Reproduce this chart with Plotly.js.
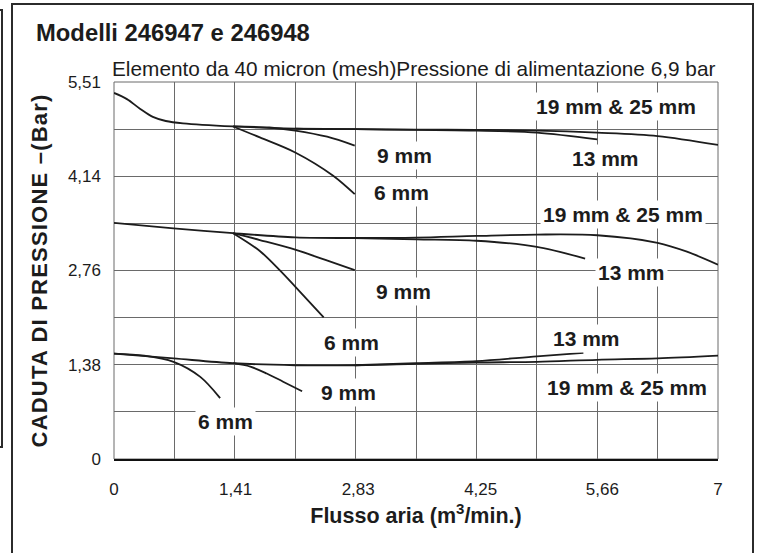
<!DOCTYPE html>
<html>
<head>
<meta charset="utf-8">
<script src="https://cdn.plot.ly/plotly-3.0.1.min.js"></script>
<style>
  html, body { margin: 0; padding: 0; background: #fff; overflow: hidden; }
  #wrap { position: relative; width: 762px; height: 553px; overflow: hidden; }
  #chart { position: absolute; left: 0; top: 0; width: 762px; height: 553px; }
  .frame { position: absolute; pointer-events: none; box-sizing: border-box; }
  #frameMain { left: 11px; top: 3px; width: 743px; height: 620px; border: 2px solid #2b2b2b; }
  #frameSide { left: -60px; top: 9px; width: 63px; height: 439px; border: 2px solid #2b2b2b; }
  #chart .ytitle { letter-spacing: 1.2px; }
</style>
</head>
<body>
<div id="wrap">
  <div id="chart"></div>
  <div class="frame" id="frameMain"></div>
  <div class="frame" id="frameSide"></div>
</div>
<script>
// Air flow (m³/min) against pressure drop (bar), three curve families, one line per pipe size.

// Upper family
const upper1925X = [0, 0.15, 0.30, 0.45, 0.60, 0.80, 1.38, 2.10, 2.80, 3.50, 4.20, 4.90, 5.60, 6.30, 7.00];
const upper1925Y = [5.35, 5.26, 5.12, 5.00, 4.94, 4.905, 4.86, 4.83, 4.82, 4.815, 4.81, 4.80, 4.77, 4.72, 4.59];
const upper13X = [2.10, 2.80, 3.50, 4.20, 4.90, 5.60];
const upper13Y = [4.83, 4.82, 4.81, 4.80, 4.77, 4.67];
const upper9X = [1.38, 1.80, 2.10, 2.47, 2.79];
const upper9Y = [4.86, 4.845, 4.80, 4.71, 4.58];
const upper6X = [1.38, 1.69, 2.10, 2.54, 2.79];
const upper6Y = [4.86, 4.70, 4.48, 4.14, 3.87];

// Middle family
const middle1925X = [0, 0.69, 1.38, 2.10, 2.79, 3.50, 4.20, 4.90, 5.60, 6.30, 6.64, 7.00];
const middle1925Y = [3.45, 3.37, 3.30, 3.24, 3.23, 3.235, 3.26, 3.28, 3.27, 3.16, 3.03, 2.84];
const middle13X = [2.79, 3.50, 4.20, 4.90, 5.46];
const middle13Y = [3.23, 3.21, 3.19, 3.10, 2.93];
const middle9X = [1.38, 1.69, 2.10, 2.45, 2.79];
const middle9Y = [3.30, 3.20, 3.06, 2.91, 2.76];
const middle6X = [1.38, 1.69, 1.92, 2.10, 2.43];
const middle6Y = [3.30, 3.04, 2.76, 2.52, 2.07];

// Lower family
const lower1925X = [0, 0.69, 1.38, 2.10, 2.79, 3.50, 4.20, 4.90, 5.60, 6.30, 7.00];
const lower1925Y = [1.54, 1.47, 1.40, 1.37, 1.37, 1.39, 1.41, 1.42, 1.45, 1.47, 1.51];
const lower13X = [2.79, 3.50, 4.20, 4.90, 5.44];
const lower13Y = [1.37, 1.40, 1.43, 1.50, 1.55];
const lower9X = [1.38, 1.58, 1.77, 1.96, 2.18];
const lower9Y = [1.40, 1.35, 1.25, 1.13, 0.99];
const lower6X = [0, 0.35, 0.69, 1.00, 1.23];
const lower6Y = [1.54, 1.51, 1.42, 1.20, 0.89];

// Axis tick labels (Italian decimal comma)
const flowTickLabels = ['0', '1,41', '2,83', '4,25', '5,66', '7'];
const dropTickLabels = ['0', '1,38', '2,76', '4,14', '5,51'];

// Pipe-size captions, in the order they are placed below
const sizeLabels = [
  '19 mm & 25 mm', '9 mm', '13 mm', '6 mm',
  '19 mm & 25 mm', '13 mm', '9 mm', '6 mm',
  '13 mm', '19 mm & 25 mm', '9 mm', '6 mm'
];

const FONT = 'Liberation Sans, Arial, Helvetica, sans-serif';
const INK = '#1c1c1c';
const GRID = '#6a6a6a';

const toNum = s => parseFloat(s.replace(',', '.'));

const curves = [
  [upper1925X, upper1925Y], [upper13X, upper13Y], [upper9X, upper9Y], [upper6X, upper6Y],
  [middle1925X, middle1925Y], [middle13X, middle13Y], [middle9X, middle9Y], [middle6X, middle6Y],
  [lower1925X, lower1925Y], [lower13X, lower13Y], [lower9X, lower9Y], [lower6X, lower6Y]
];

const traces = curves.map(([x, y]) => ({
  x: x, y: y,
  type: 'scatter', mode: 'lines',
  line: { color: INK, width: 1.8, shape: 'spline', smoothing: 0.9 },
  hoverinfo: 'skip', showlegend: false
}));

// Grid: 10 columns across the flow range, 8 rows across the drop range
const xMax = 7, yMax = 5.51;
const xGrid = Array.from({ length: 9 }, (_, i) => (i + 1) * xMax / 10);
const yGrid = Array.from({ length: 7 }, (_, i) => (i + 1) * yMax / 8);

// Caption anchor points in data units (flow, drop)
const labelSpots = [
  [5.82, 5.145], [3.37, 4.44], [5.70, 4.385], [3.33, 3.90],
  [5.90, 3.57], [6.00, 2.72], [3.36, 2.455], [2.75, 1.70],
  [5.48, 1.76], [5.94, 1.045], [2.72, 0.97], [1.29, 0.545]
];

const annotations = sizeLabels.map((t, i) => ({
  text: t, x: labelSpots[i][0], y: labelSpots[i][1],
  xref: 'x', yref: 'y', showarrow: false,
  xanchor: 'center', yanchor: 'middle',
  bgcolor: '#ffffff', borderpad: 2,
  font: { family: FONT, size: 21, weight: 'bold', color: INK }
}));

annotations.push({
  text: 'Elemento da 40 micron (mesh)Pressione di alimentazione 6,9 bar',
  xref: 'paper', yref: 'paper', x: -0.007, y: 1.037,
  xanchor: 'left', yanchor: 'middle', showarrow: false,
  font: { family: FONT, size: 20.8, color: INK }
});

const layout = {
  width: 762, height: 553,
  margin: { l: 114, r: 44, t: 82, b: 94, autoexpand: false },
  paper_bgcolor: '#ffffff', plot_bgcolor: '#ffffff',
  title: {
    text: 'Modelli 246947 e 246948',
    xref: 'container', yref: 'container',
    x: 36 / 762, xanchor: 'left', y: 1 - 33 / 553, yanchor: 'middle',
    font: { family: FONT, size: 23.8, weight: 'bold', color: INK }
  },
  xaxis: {
    range: [0, xMax], fixedrange: true,
    tickmode: 'array', tickvals: flowTickLabels.map(toNum), ticktext: flowTickLabels,
    ticks: '', ticklabelstandoff: 14,
    tickfont: { family: FONT, size: 17, color: INK },
    showgrid: false, zeroline: false,
    showline: true, linecolor: '#111', linewidth: 2,
    minor: { tickmode: 'array', tickvals: xGrid, showgrid: true, gridcolor: GRID, gridwidth: 1, ticks: '' },
    title: {
      text: 'Flusso aria (m<sup>3</sup>/min.)', standoff: 10,
      font: { family: FONT, size: 21.5, weight: 'bold', color: INK }
    }
  },
  yaxis: {
    range: [0, yMax], fixedrange: true,
    tickmode: 'array', tickvals: dropTickLabels.map(toNum), ticktext: dropTickLabels,
    ticks: '', ticklabelstandoff: 12,
    tickfont: { family: FONT, size: 17, color: INK },
    showgrid: false, zeroline: false, showline: false,
    minor: { tickmode: 'array', tickvals: yGrid, showgrid: true, gridcolor: GRID, gridwidth: 1, ticks: '' },
    title: {
      text: 'CADUTA DI PRESSIONE \u2013(Bar)', standoff: 14,
      font: { family: FONT, size: 22, weight: 'bold', color: INK }
    }
  },
  shapes: [{
    type: 'rect', xref: 'paper', yref: 'paper', x0: 0, x1: 1, y0: 0, y1: 1,
    line: { color: GRID, width: 1 }, layer: 'below'
  }],
  annotations: annotations
};

Plotly.newPlot('chart', traces, layout, { staticPlot: true, displayModeBar: false });
</script>
</body>
</html>
